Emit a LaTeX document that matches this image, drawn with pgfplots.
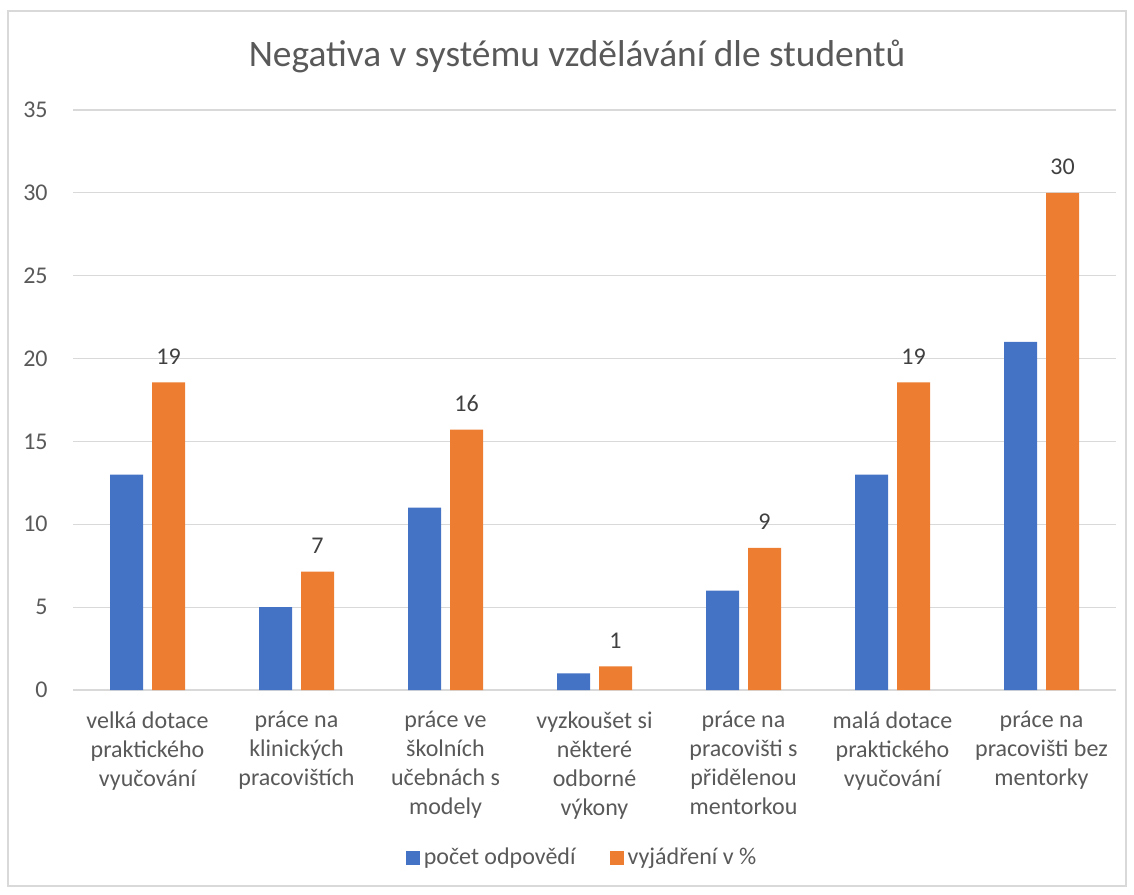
\documentclass[border=0pt]{standalone}
\usepackage{pgfplots}
\pgfplotsset{compat=1.18}
\usepackage{fontspec}
\setmainfont{Carlito}
\definecolor{cblue}{HTML}{4472C4}
\definecolor{corange}{HTML}{ED7D31}
\definecolor{ctext}{HTML}{595959}
\definecolor{cgrid}{HTML}{D9D9D9}
\definecolor{clabel}{HTML}{404040}
\begin{document}
\begin{tikzpicture}[x=0.5pt,y=0.5pt]
\path[use as bounding box] (0,0) rectangle (1134,894);
\draw[cgrid, line width=0.6pt] (8,8) rectangle (1126,883);
\node[anchor=base, text=ctext, font=\fontsize{18.7}{22}\selectfont, inner sep=0pt] at (577,827) {Negativa v systému vzdělávání dle studentů};
\begin{axis}[
 at={(36.5pt,102pt)}, anchor=south west,
 width=521.5pt, height=290pt, scale only axis,
 ybar=4.5pt, bar width=16.5pt,
 xmin=-0.5, xmax=6.5, ymin=0, ymax=35,
 xtick={0,1,2,3,4,5,6},
 xticklabels={{velká dotace\\praktického\\vyučování},{práce na\\klinických\\pracovištích},{práce ve\\školních\\učebnách s\\modely},{vyzkoušet si\\některé\\odborné\\výkony},{práce na\\pracovišti s\\přidělenou\\mentorkou},{malá dotace\\praktického\\vyučování},{práce na\\pracovišti bez\\mentorky}},
 ytick={0,5,10,15,20,25,30,35},
 ymajorgrids, grid style={cgrid, line width=0.6pt},
 axis line style={draw=none},
 major tick length=0pt,
 tick label style={text=ctext},
 yticklabel style={font=\fontsize{12}{14}\selectfont, inner sep=0pt, xshift=-12.5pt},
 xticklabel style={font=\fontsize{12}{14.5}\selectfont, align=center, inner sep=0pt, yshift=-10.5pt, anchor=north},
 /pgf/number format/assume math mode=true,
 legend style={at={(axis description cs:0.489,-0.2897)}, anchor=center, draw=none, fill=none, font=\fontsize{12}{14}\selectfont, text=ctext, /tikz/every even column/.append style={column sep=15pt}},
 legend columns=2,
 legend image code/.code={\fill[#1] (0pt,-3.5pt) rectangle (7pt,3.5pt);},
]
\addplot[fill=cblue, draw=none] coordinates {(0,13) (1,5) (2,11) (3,1) (4,6) (5,13) (6,21)};
\addplot[fill=corange, draw=none,
  nodes near coords={\pgfmathprintnumber[fixed,precision=0]{\pgfplotspointmeta}},
  point meta=y,
  nodes near coords style={font=\fontsize{12}{14}\selectfont, text=clabel, anchor=base, inner sep=0pt, yshift=9pt}]
  coordinates {(0,18.57) (1,7.14) (2,15.71) (3,1.43) (4,8.57) (5,18.57) (6,30)};
\legend{počet odpovědí, vyjádření v \%}
\end{axis}
\end{tikzpicture}
\end{document}
